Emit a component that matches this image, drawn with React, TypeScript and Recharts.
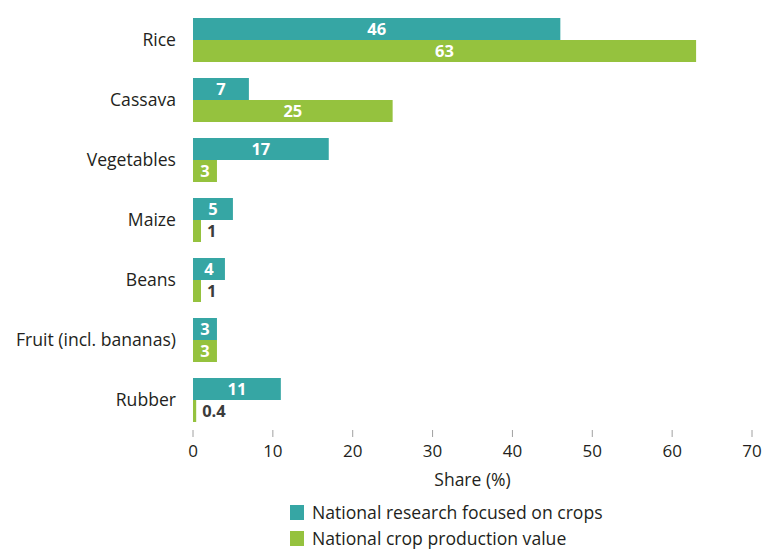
import { Bar, BarChart, LabelList, Legend, XAxis, YAxis } from 'recharts'

const crops = [
  'Rice',
  'Cassava',
  'Vegetables',
  'Maize',
  'Beans',
  'Fruit (incl. bananas)',
  'Rubber',
]
const researchShare = [46, 7, 17, 5, 4, 3, 11]
const productionShare = [63, 25, 3, 1, 1, 3, 0.4]
const xTicks = [0, 10, 20, 30, 40, 50, 60, 70]

const TEAL = '#36a6a4'
const GREEN = '#95c23e'
const FONT = '"Open Sans", sans-serif'

const data = crops.map((name, i) => ({
  name,
  research: researchShare[i],
  production: productionShare[i],
}))

const legendItems = [
  { label: 'National research focused on crops', color: TEAL },
  { label: 'National crop production value', color: GREEN },
]

// small bars get their value to the right in dark grey
const ValueLabel = (props: any) => {
  const { x, y, width, height, value } = props
  const inside = value >= 3
  return (
    <text
      x={inside ? x + width / 2 : x + width + 6}
      y={y + height / 2}
      dy="0.35em"
      textAnchor={inside ? 'middle' : 'start'}
      fill={inside ? '#ffffff' : '#3c3c3c'}
      fontFamily={FONT}
      fontWeight={700}
      fontSize={16.5}
    >
      {value}
    </text>
  )
}

const LegendContent = () => (
  <div style={{ fontFamily: FONT, fontSize: 17.6, color: '#231f20' }}>
    {legendItems.map((item) => (
      <div
        key={item.label}
        style={{ display: 'flex', alignItems: 'center', height: 26 }}
      >
        <span
          style={{
            display: 'inline-block',
            width: 14,
            height: 15,
            background: item.color,
            marginRight: 8,
          }}
        />
        {item.label}
      </div>
    ))}
  </div>
)

export default function App() {
  return (
    <div style={{ position: 'absolute', left: 0, top: 0, background: '#fff' }}>
      <BarChart
        width={764}
        height={550}
        data={data}
        layout="vertical"
        margin={{ top: 10, right: 12, left: 0, bottom: 60 }}
        barSize={22}
        barGap={0}
      >
        <XAxis
          type="number"
          domain={[0, 70]}
          ticks={xTicks}
          axisLine={false}
          tickLine={{ stroke: '#a0a0a0' }}
          tickSize={7}
          tickMargin={8}
          height={60}
          tick={{ fill: '#231f20', fontSize: 17, fontFamily: FONT }}
          label={{
            value: 'Share (%)',
            position: 'insideBottom',
            offset: 4,
            fill: '#231f20',
            fontSize: 17.5,
            fontFamily: FONT,
          }}
        />
        <YAxis
          type="category"
          dataKey="name"
          width={193}
          axisLine={false}
          tickLine={false}
          tickSize={0}
          tickMargin={17}
          tick={{ fill: '#231f20', fontSize: 17.6, fontFamily: FONT }}
        />
        <Legend
          layout="vertical"
          align="center"
          verticalAlign="middle"
          wrapperStyle={{ top: 499, left: 290, width: 'auto' }}
          content={<LegendContent />}
        />
        <Bar dataKey="research" fill={TEAL} isAnimationActive={false}>
          <LabelList dataKey="research" content={<ValueLabel />} />
        </Bar>
        <Bar dataKey="production" fill={GREEN} isAnimationActive={false}>
          <LabelList dataKey="production" content={<ValueLabel />} />
        </Bar>
      </BarChart>
    </div>
  )
}
